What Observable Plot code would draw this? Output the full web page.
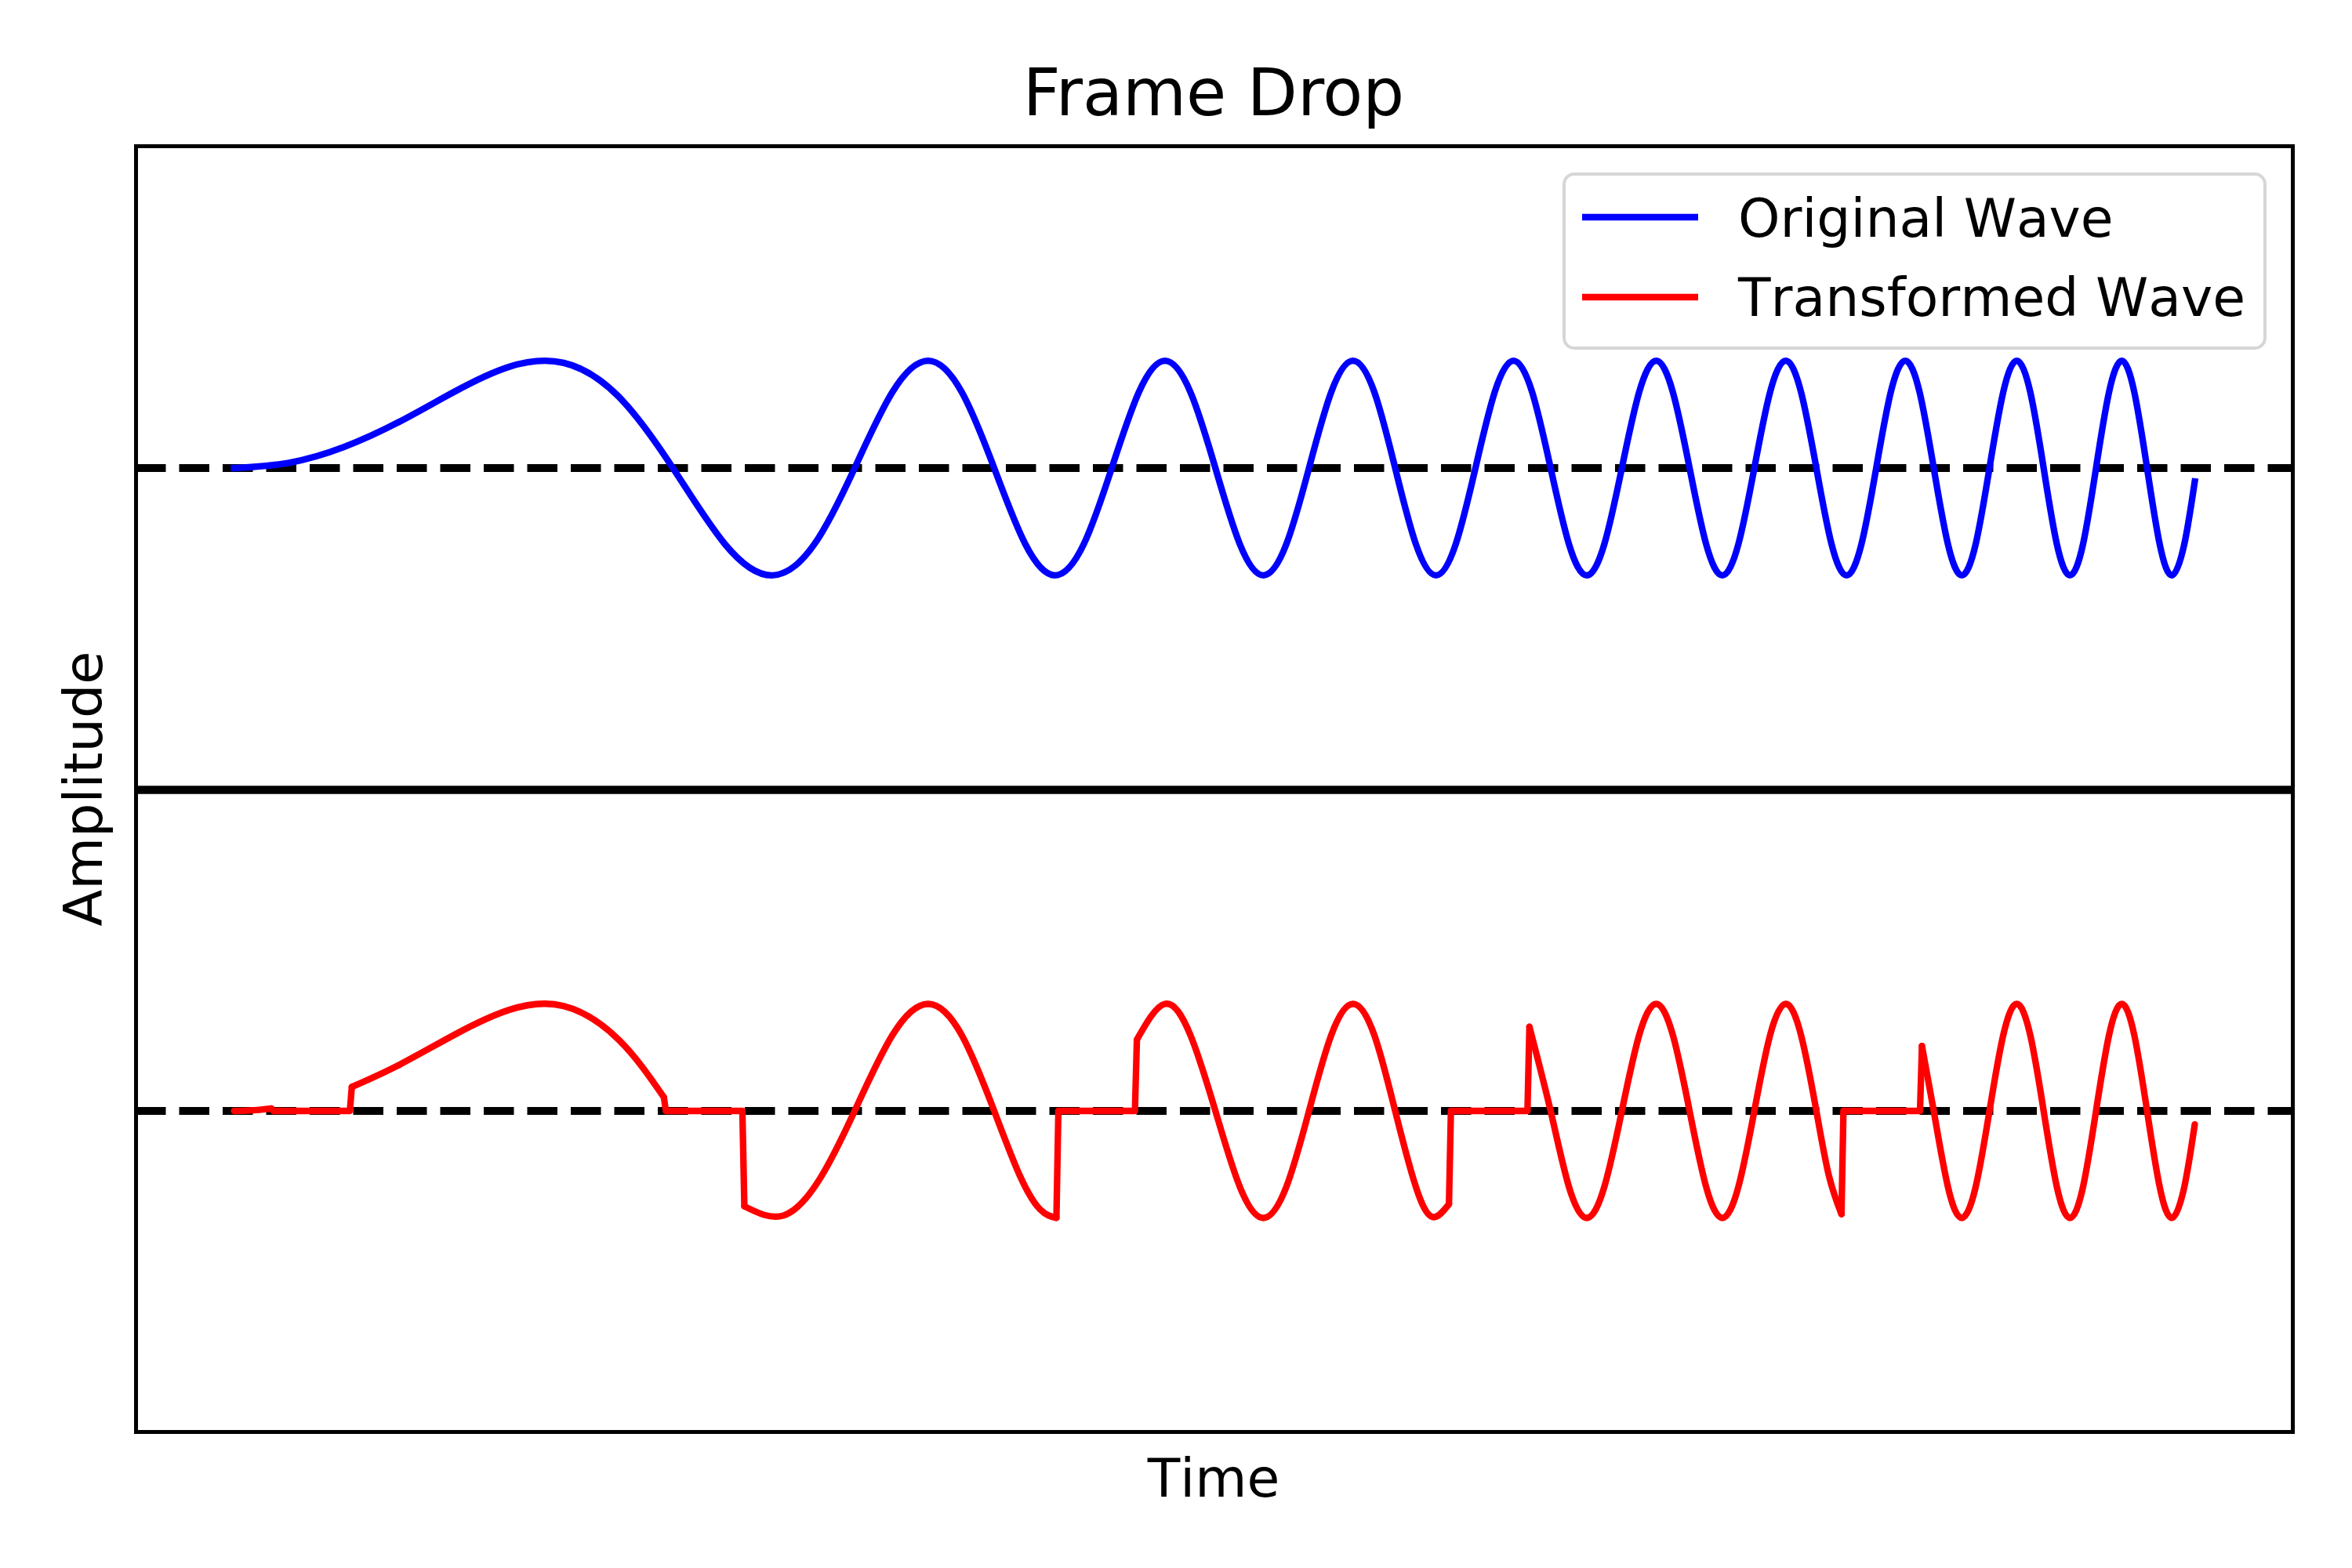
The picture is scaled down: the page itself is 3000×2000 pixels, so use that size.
<!DOCTYPE html>
<html>
<head>
<meta charset="utf-8">
<script src="https://cdn.jsdelivr.net/npm/d3@7"></script>
<script src="https://cdn.jsdelivr.net/npm/@observablehq/plot@0.6"></script>
<style>
  body { margin: 0; background: white; }
  #root { position: relative; width: 3000px; height: 2000px; background: white; overflow: hidden;
          font-family: "DejaVu Sans", sans-serif; }
</style>
</head>
<body>
<div id="root"></div>
<script>
// ---- Data (time in [0, 1), amplitude) ----
const origT = [0, 0.028, 0.056, 0.084, 0.112, 0.14, 0.168, 0.196, 0.2236,
  0.25, 0.2739, 0.2958, 0.3162,
  0.3354, 0.3536, 0.3708, 0.3873, 0.4031, 0.4183, 0.433, 0.4472,
  0.461, 0.4743, 0.4873, 0.5, 0.5124, 0.5244, 0.5362, 0.5477,
  0.559, 0.5701, 0.581, 0.5916, 0.6021, 0.6124, 0.6225, 0.6325,
  0.6423, 0.6519, 0.6614, 0.6708, 0.6801, 0.6892, 0.6982, 0.7071,
  0.7159, 0.7246, 0.7331, 0.7416, 0.75, 0.7583, 0.7665, 0.7746,
  0.7826, 0.7906, 0.7984, 0.8062, 0.8139, 0.8216, 0.8292, 0.8367,
  0.8441, 0.8515, 0.8588, 0.866, 0.8732, 0.8803, 0.8874, 0.8944,
  0.9014, 0.9083, 0.9152, 0.922, 0.9287, 0.9354, 0.9421, 0.9487,
  0.9553, 0.9618, 0.9682, 0.9747, 0.9811, 0.9874, 0.9937, 0.999];
const origY = [0, 0.049, 0.196, 0.429, 0.709, 0.943, 0.980, 0.665, 0,
  -0.707, -1, -0.707, 0,
  0.707, 1, 0.707, 0, -0.707, -1, -0.707, 0,
  0.707, 1, 0.707, 0, -0.707, -1, -0.707, 0,
  0.707, 1, 0.707, 0, -0.707, -1, -0.707, 0,
  0.707, 1, 0.707, 0, -0.707, -1, -0.707, 0,
  0.707, 1, 0.707, 0, -0.707, -1, -0.707, 0,
  0.707, 1, 0.707, 0, -0.707, -1, -0.707, 0,
  0.707, 1, 0.707, 0, -0.707, -1, -0.707, 0,
  0.707, 1, 0.707, 0, -0.707, -1, -0.707, 0,
  0.707, 1, 0.707, 0, -0.707, -1, -0.707, -0.125];

const tranT = [0, 0.01, 0.019, 0.02, 0.059,
  0.06, 0.084, 0.112, 0.14, 0.168, 0.196, 0.219, 0.22, 0.259,
  0.26, 0.28, 0.2987, 0.3162, 0.3354, 0.3536, 0.3708, 0.3873, 0.4004, 0.4107, 0.419, 0.42, 0.459,
  0.46, 0.4743, 0.4873, 0.5, 0.5124, 0.5244, 0.5362, 0.5477,
  0.559, 0.5701, 0.581, 0.5916, 0.6021, 0.6106, 0.619, 0.62, 0.659,
  0.66, 0.6708, 0.6801, 0.6892, 0.6982, 0.7071,
  0.7159, 0.7246, 0.7331, 0.7416, 0.75, 0.7583, 0.7665, 0.7746,
  0.7826, 0.7906, 0.7984, 0.8062, 0.8126, 0.819, 0.82, 0.859,
  0.86, 0.866, 0.8732, 0.8803, 0.8874, 0.8944,
  0.9014, 0.9083, 0.9152, 0.922, 0.9287, 0.9354, 0.9421, 0.9487,
  0.9553, 0.9618, 0.9682, 0.9747, 0.9811, 0.9874, 0.9937, 0.999];
const tranY = [0, 0.006, 0.023, 0, 0,
  0.224, 0.429, 0.709, 0.943, 0.980, 0.665, 0.128, 0, 0,
  -0.891, -0.977, -0.627, 0, 0.707, 1, 0.707, 0, -0.606, -0.921, -0.999, 0, 0,
  0.666, 1, 0.707, 0, -0.707, -1, -0.707, 0,
  0.707, 1, 0.707, 0, -0.707, -0.991, -0.871, 0, 0,
  0.786, 0, -0.707, -1, -0.707, 0,
  0.707, 1, 0.707, 0, -0.707, -1, -0.707, 0,
  0.707, 1, 0.707, 0, -0.607, -0.965, 0, 0,
  0.607, 0, -0.707, -1, -0.707, 0,
  0.707, 1, 0.707, 0, -0.707, -1, -0.707, 0,
  0.707, 1, 0.707, 0, -0.707, -1, -0.707, -0.125];

const seriesNames = ["Original Wave", "Transformed Wave"];
const seriesColors = ["blue", "red"];
const baselineValue = [0];
const yLimits = [-3, 3];
const chartTitle = "Frame Drop";
const xLabel = "Time";
const yLabel = "Amplitude";

const original = origT.map((t, i) => ({t, y: origY[i]}));
const transformed = tranT.map((t, i) => ({t, y: tranY[i]}));

// Split the transformed wave into smooth wave runs and straight (dropped / jump) runs.
const runs = [];
for (let i = 0; i < transformed.length - 1; i++) {
  const a = transformed[i], b = transformed[i + 1];
  const straight = (a.y === 0 && b.y === 0) || (b.t - a.t < 0.0015);
  const type = straight ? "lin" : "smooth";
  const last = runs[runs.length - 1];
  if (last && last.type === type) last.pts.push(b);
  else runs.push({type, pts: [a, b]});
}
const smoothRuns = runs.flatMap((r, k) => r.type === "smooth" ? r.pts.map(p => ({...p, piece: k})) : []);
const straightRuns = runs.flatMap((r, k) => r.type === "lin" ? r.pts.map(p => ({...p, piece: k})) : []);

// ---- Layout (pixels) ----
const AX_L = 172.5, AX_R = 2923.5, TOP_Y0 = 186, MID = 1007, BOT_Y1 = 1826, PAD = 14;
const W = AX_R - AX_L;
const tMax = origT[origT.length - 1];
const xDomain = [-0.05 * tMax, 1.05 * tMax];

const root = document.getElementById("root");

function panel(y0, y1, waveMarks, extraMarks) {
  const h = y1 - y0;
  const svg = Plot.plot({
    width: W + 2 * PAD, height: h + 2 * PAD,
    marginLeft: PAD, marginRight: PAD, marginTop: PAD, marginBottom: PAD,
    x: {domain: xDomain, axis: null},
    y: {domain: yLimits, axis: null},
    style: {background: "transparent", overflow: "visible"},
    marks: [
      Plot.ruleY(baselineValue, {stroke: "black", strokeWidth: 10, strokeDasharray: "38.5,17"}),
      ...waveMarks,
      Plot.frame({stroke: "black", strokeWidth: 5}),
      ...extraMarks
    ]
  });
  svg.style.position = "absolute";
  svg.style.left = (AX_L - PAD) + "px";
  svg.style.top = (y0 - PAD) + "px";
  svg.style.maxWidth = "none";
  svg.style.width = (W + 2 * PAD) + "px";
  svg.style.height = (h + 2 * PAD) + "px";
  root.appendChild(svg);
}

panel(TOP_Y0, MID, [
  Plot.line(original, {x: "t", y: "y", stroke: seriesColors[0], strokeWidth: 8.3, curve: "natural",
    strokeLinecap: "square", strokeLinejoin: "round"})
], [
  Plot.ruleY([yLimits[0]], {stroke: "black", strokeWidth: 10.6})
]);

panel(MID, BOT_Y1, [
  Plot.line(smoothRuns, {x: "t", y: "y", z: "piece", stroke: seriesColors[1], strokeWidth: 8.3,
    curve: "natural", strokeLinecap: "round", strokeLinejoin: "round"}),
  Plot.line(straightRuns, {x: "t", y: "y", z: "piece", stroke: seriesColors[1], strokeWidth: 8.3,
    curve: "linear", strokeLinecap: "round", strokeLinejoin: "round"})
], []);

// ---- Title, axis labels, legend ----
const ov = d3.select(root).append("svg")
  .attr("width", 3000).attr("height", 2000)
  .style("position", "absolute").style("left", "0px").style("top", "0px")
  .attr("font-family", "DejaVu Sans, sans-serif");

ov.append("text").attr("x", (AX_L + AX_R) / 2).attr("y", 147)
  .attr("text-anchor", "middle").attr("font-size", 83.3).attr("fill", "black").text(chartTitle);
ov.append("text").attr("x", (AX_L + AX_R) / 2).attr("y", 1909)
  .attr("text-anchor", "middle").attr("font-size", 68).style("font-kerning", "none")
  .attr("fill", "black").text(xLabel);
ov.append("text").attr("transform", `translate(130,${(TOP_Y0 + BOT_Y1) / 2}) rotate(-90)`)
  .attr("text-anchor", "middle").attr("font-size", 68.5).style("font-kerning", "none")
  .attr("fill", "black").text(yLabel);

const lg = ov.append("g");
lg.append("rect").attr("x", 1995).attr("y", 222).attr("width", 894).attr("height", 222)
  .attr("rx", 13).attr("ry", 13)
  .attr("fill", "white").attr("fill-opacity", 0.8)
  .attr("stroke", "#d6d6d6").attr("stroke-width", 4);
const rowsY = [277, 379];
const baseY = [302, 403];
seriesNames.forEach((name, i) => {
  lg.append("line").attr("x1", 2018).attr("x2", 2166).attr("y1", rowsY[i]).attr("y2", rowsY[i])
    .attr("stroke", seriesColors[i]).attr("stroke-width", 8.3);
  lg.append("text").attr("x", 2217).attr("y", baseY[i]).attr("font-size", 68)
    .style("font-kerning", "none").attr("fill", "black").text(name);
});
</script>
</body>
</html>
